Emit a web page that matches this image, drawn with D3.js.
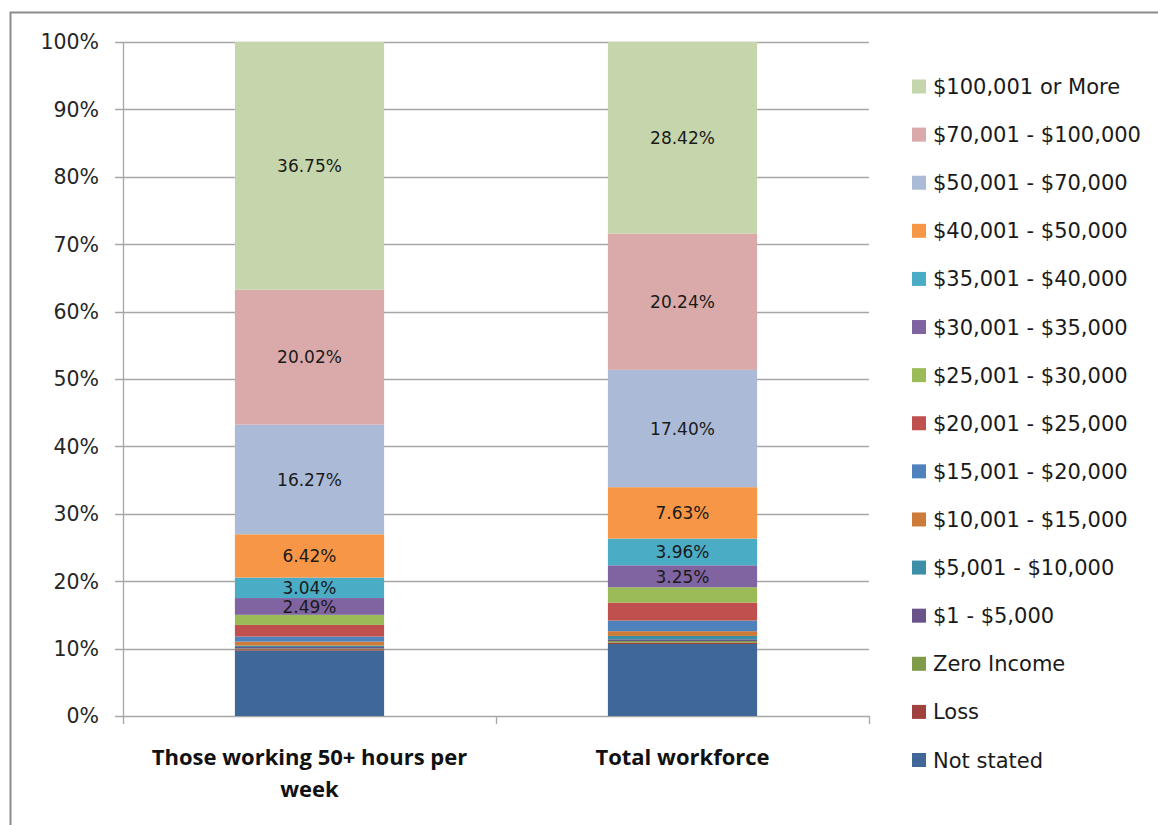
<!DOCTYPE html>
<html>
<head>
<meta charset="utf-8">
<script src="https://cdn.jsdelivr.net/npm/d3@7"></script>
<style>
  body { margin: 0; background: #fff; }
</style>
</head>
<body>
<div id="chart"></div>
<script>
// categories and income bands (bottom to top)
const categories = ["Those working 50+ hours per week", "Total workforce"];
const bands = ["Not stated", "Loss", "Zero Income", "$1 - $5,000", "$5,001 - $10,000",
  "$10,001 - $15,000", "$15,001 - $20,000", "$20,001 - $25,000", "$25,001 - $30,000",
  "$30,001 - $35,000", "$35,001 - $40,000", "$40,001 - $50,000", "$50,001 - $70,000",
  "$70,001 - $100,000", "$100,001 or More"];
const colors = ["#3F6899", "#A1413E", "#7F9A48", "#69538A", "#3B8FA6", "#CC7B38",
  "#4F81BD", "#C0504D", "#9BBB59", "#8064A2", "#4BACC6", "#F79646",
  "#AABAD7", "#D9AAA9", "#C6D6AC"];
// percent share per band, one array per category
const fiftyPlus = [9.70, 0.20, 0.12, 0.22, 0.20, 0.60, 0.75, 1.72, 1.50, 2.49, 3.04, 6.42, 16.27, 20.02, 36.75];
const totalWorkforce = [10.68, 0.20, 0.25, 0.25, 0.50, 0.70, 1.58, 2.67, 2.28, 3.25, 3.96, 7.63, 17.40, 20.24, 28.42];
// bands that carry a value label
const labelled = [9, 10, 11, 12, 13, 14];
const yTicks = [0, 10, 20, 30, 40, 50, 60, 70, 80, 90, 100];

const W = 1158, H = 825;
const plot = { left: 123, right: 869, top: 42, bottom: 716 };
const sans = "'DejaVu Sans', sans-serif";

const svg = d3.select("#chart").append("svg")
  .attr("width", W).attr("height", H);

// frame (top and left edges visible)
svg.append("path")
  .attr("d", `M10.5,${H} V12.5 H${W}`)
  .attr("fill", "none").attr("stroke", "#8c8c8c").attr("stroke-width", 2);

const x = d3.scaleBand().domain(categories).range([plot.left, plot.right]).paddingInner(0).paddingOuter(0);
const y = d3.scaleLinear().domain([0, 100]).range([plot.bottom, plot.top]);
const barW = x.bandwidth() * 0.4;

// gridlines
svg.append("g").selectAll("line").data(yTicks).join("line")
  .attr("x1", plot.left - 8).attr("x2", plot.right)
  .attr("y1", d => Math.round(y(d)) + 0.5).attr("y2", d => Math.round(y(d)) + 0.5)
  .attr("stroke", "#a6a6a6").attr("stroke-width", 1.3);

// y axis line
svg.append("line")
  .attr("x1", plot.left + 0.5).attr("x2", plot.left + 0.5)
  .attr("y1", plot.top).attr("y2", plot.bottom + 8)
  .attr("stroke", "#a6a6a6").attr("stroke-width", 1.3);

// x axis ticks at category boundaries
const bounds = [plot.left, plot.left + x.bandwidth(), plot.right];
svg.append("g").selectAll("line").data(bounds.slice(1)).join("line")
  .attr("x1", d => Math.round(d) + 0.5).attr("x2", d => Math.round(d) + 0.5)
  .attr("y1", plot.bottom).attr("y2", plot.bottom + 8)
  .attr("stroke", "#a6a6a6").attr("stroke-width", 1.3);

// y tick labels
svg.append("g").selectAll("text").data(yTicks).join("text")
  .attr("x", plot.left - 24).attr("y", d => y(d))
  .attr("dy", "0.36em").attr("text-anchor", "end")
  .attr("font-family", sans)
  .attr("font-size", 20.5).attr("fill", "#262626")
  .text(d => d + "%");

// stack data
const rows = [fiftyPlus, totalWorkforce].map((vals, i) => {
  const r = { cat: categories[i] };
  bands.forEach((b, j) => r[b] = vals[j]);
  return r;
});
const stack = d3.stack().keys(bands)(rows);

const layers = svg.append("g").selectAll("g").data(stack).join("g")
  .attr("fill", (d, i) => colors[i]);

layers.selectAll("rect").data(d => d).join("rect")
  .attr("x", d => x(d.data.cat) + (x.bandwidth() - barW) / 2)
  .attr("width", barW)
  .attr("y", d => y(d[1]))
  .attr("height", d => y(d[0]) - y(d[1]));

// value labels
const lab = svg.append("g");
stack.forEach((layer, i) => {
  if (!labelled.includes(i)) return;
  layer.forEach(d => {
    lab.append("text")
      .attr("x", x(d.data.cat) + x.bandwidth() / 2)
      .attr("y", (y(d[0]) + y(d[1])) / 2)
      .attr("dy", "0.37em").attr("text-anchor", "middle")
      .attr("font-family", sans)
      .attr("font-size", 17).attr("fill", "#1a1a1a")
      .text(d3.format(".2f")(d.data[layer.key]) + "%");
  });
});

// category labels
const catLines = [["Those working 50+ hours per", "week"], ["Total workforce"]];
categories.forEach((c, i) => {
  const t = svg.append("text")
    .attr("x", x(c) + x.bandwidth() / 2).attr("y", 765)
    .attr("text-anchor", "middle").attr("font-size", 22)
    .attr("font-family", "'Open Sans', sans-serif")
    .attr("font-weight", "bold").attr("fill", "#111");
  catLines[i].forEach((l, k) => {
    t.append("tspan").attr("x", x(c) + x.bandwidth() / 2)
      .attr("dy", k === 0 ? 0 : 32).text(l);
  });
});

// legend (top item is the last band)
const legendBands = bands.slice().reverse();
const ly = d3.scalePoint().domain(legendBands).range([86.5, 760]);
const legend = svg.append("g").selectAll("g").data(legendBands).join("g")
  .attr("transform", d => `translate(912,${ly(d)})`);
legend.append("rect")
  .attr("x", 0).attr("y", -7).attr("width", 14).attr("height", 14)
  .attr("fill", d => colors[bands.indexOf(d)]);
legend.append("text")
  .attr("x", 21).attr("y", 0).attr("dy", "0.36em")
  .attr("font-family", sans)
  .attr("font-size", 21).attr("fill", "#1a1a1a")
  .text(d => d);
</script>
</body>
</html>
